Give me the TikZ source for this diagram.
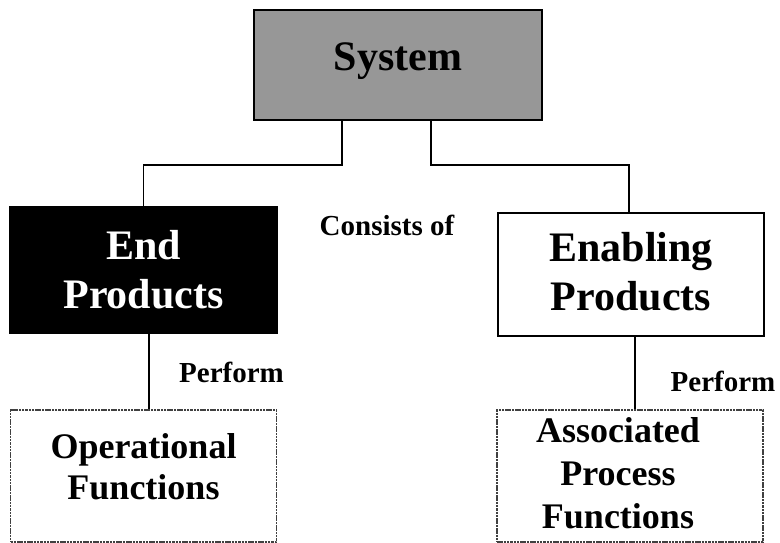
\documentclass[tikz,border=0pt]{standalone}
\usepackage{fontspec}
\setmainfont{Liberation Serif}
\definecolor{sysgray}{HTML}{979797}
\tikzset{
  conn/.style={line width=1.6pt, black},
  bigtext/.style={font=\bfseries\fontsize{42}{49}\selectfont, align=center},
  fntext/.style={font=\bfseries\fontsize{36}{42}\selectfont, align=center},
  lbl/.style={font=\bfseries\fontsize{29}{34}\selectfont},
  solidbox/.style={draw=black, line width=2pt, inner sep=0pt},
  dotbox/.style={draw=black!75, line width=1.3pt, dash pattern=on 2.5pt off 0.8pt, inner sep=0pt, minimum width=266pt, minimum height=132pt},
}
\begin{document}
\begin{tikzpicture}[x=1pt,y=-1pt]
\useasboundingbox (0,0) rectangle (780,543);
% boxes
\node[solidbox, fill=sysgray, minimum width=288pt, minimum height=110pt] (sys) at (398,65) {};
\node[bigtext] (systext) at (398,61) {System};
\node[solidbox, fill=black, minimum width=267pt, minimum height=126pt] (endp) at (143.5,270) {};
\node[bigtext, text=white] (endtext) at (143.5,270) {End\\Products};
\node[solidbox, fill=white, line width=2.3pt, minimum width=266pt, minimum height=123pt] (enab) at (631,274.5) {};
\node[bigtext] (enabtext) at (631,272) {Enabling\\Products};
\node[dotbox] (ops) at (143.5,476) {};
\node[fntext, font=\bfseries\fontsize{36}{41}\selectfont] (opstext) at (143.5,467) {Operational\\Functions};
\node[dotbox] (assoc) at (630,476) {};
\node[fntext, font=\bfseries\fontsize{36}{43}\selectfont] (assoctext) at (618,473) {Associated\\Process\\Functions};
% labels
\node[lbl] (consists) at (387,225) {Consists of};
\node[lbl] (perf1) at (231.5,372) {Perform};
\node[lbl] (perf2) at (723,381) {Perform};
% connectors
\draw[conn] ([xshift=-56pt]sys.south) -- ++(0,44) -| (endp.north);
\draw[conn] ([xshift=33pt]sys.south) -- ++(0,44) -| ([xshift=-2pt]enab.north);
\draw[conn] ([xshift=5.5pt]endp.south) -- ([xshift=5.5pt]ops.north);
\draw[conn] ([xshift=4pt]enab.south) -- ([xshift=5pt]assoc.north);
\end{tikzpicture}
\end{document}
